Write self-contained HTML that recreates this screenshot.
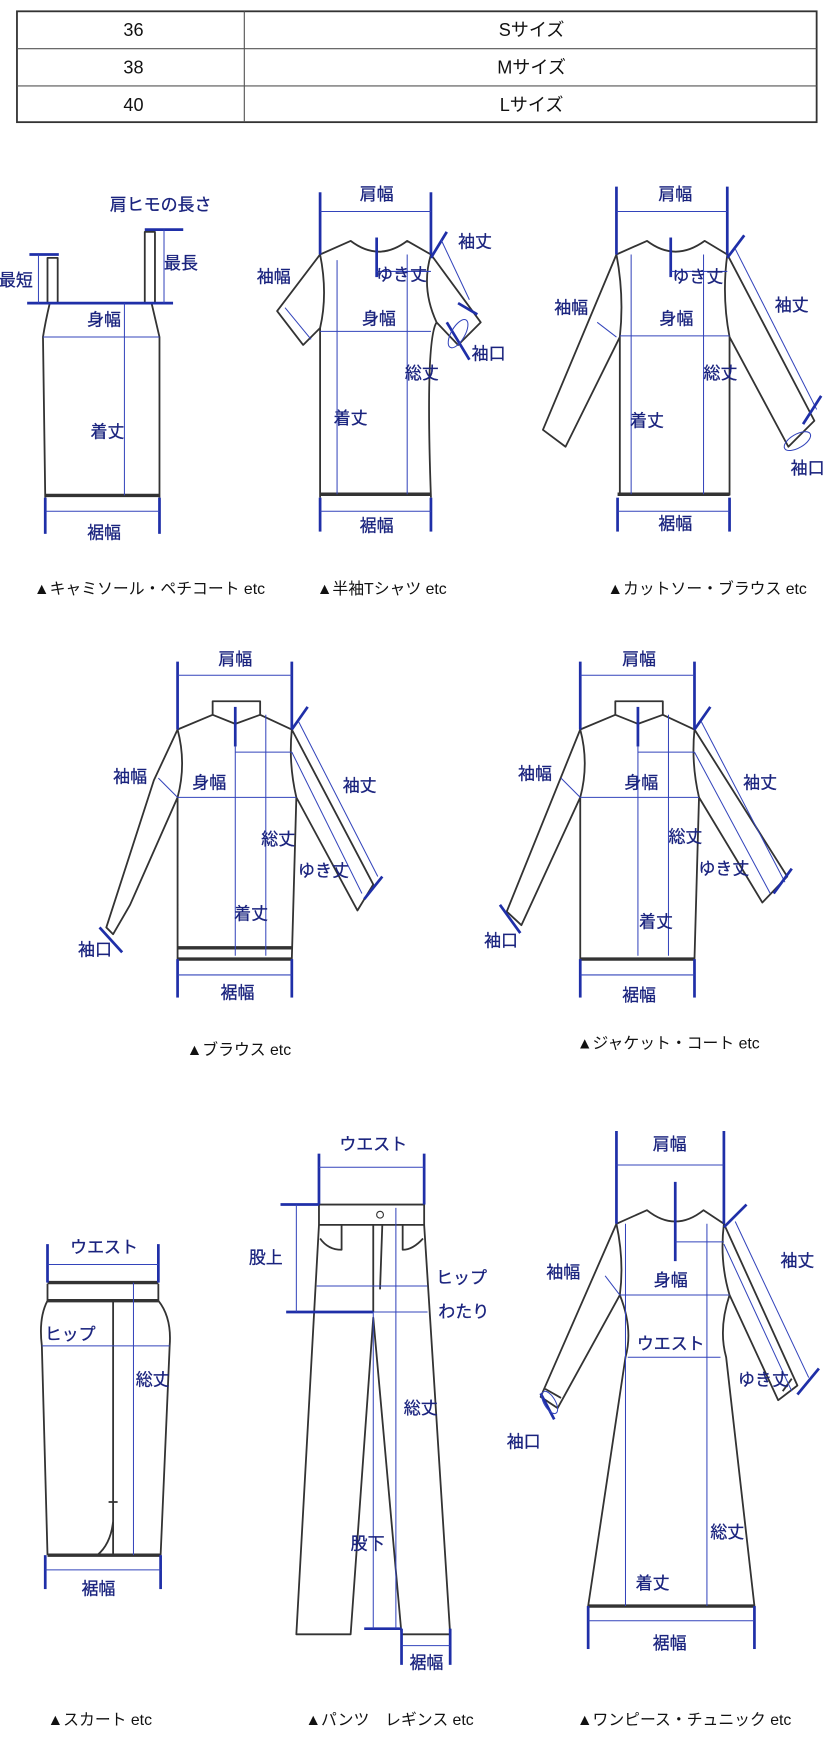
<!DOCTYPE html>
<html><head><meta charset="utf-8"><style>
html,body{margin:0;padding:0;background:#fff}
svg{display:block}
text{font-family:"Liberation Sans","Noto Sans CJK JP",sans-serif}
.l{fill:#1a237e;font-size:15px;text-anchor:middle;stroke:#1a237e;stroke-width:0.25}
.c{fill:#111;font-size:14px}
.o{fill:none;stroke:#333;stroke-width:1.6;stroke-linejoin:round}
.h{fill:none;stroke:#333;stroke-width:3}
.b{fill:none;stroke:#3344bb;stroke-width:0.9}
.B{fill:none;stroke:#1f2fa8;stroke-width:2.4}
</style></head><body>
<svg width="837" height="1761" viewBox="0 0 740 1557" preserveAspectRatio="none" xmlns="http://www.w3.org/2000/svg">
<!-- table -->
<rect x="15" y="10" width="707" height="98" fill="none" stroke="#333" stroke-width="1.6"/>
<line x1="15" y1="43" x2="722" y2="43" stroke="#555"/>
<line x1="15" y1="76" x2="722" y2="76" stroke="#555"/>
<line x1="216" y1="10" x2="216" y2="108" stroke="#555"/>
<g font-size="16" fill="#111" text-anchor="middle">
<text x="118" y="32">36</text><text x="470" y="32">Sサイズ</text>
<text x="118" y="65">38</text><text x="470" y="65">Mサイズ</text>
<text x="118" y="98">40</text><text x="470" y="98">Lサイズ</text>
</g>

<!-- camisole -->
<path class="o" d="M42 268 L42 228 L51 228 L51 268 M128 268 L128 205 L137 205 L137 268 M44 268 Q40 285 38 298 L40 440 M134 268 Q138 285 141 298 L141 440"/>
<line class="h" x1="40" y1="438" x2="141" y2="438"/>
<line class="B" x1="24" y1="268" x2="153" y2="268"/>
<line class="B" x1="26" y1="225" x2="52" y2="225"/><line class="b" x1="34" y1="225" x2="34" y2="268"/>
<line class="B" x1="128" y1="203" x2="162" y2="203"/><line class="b" x1="145" y1="203" x2="145" y2="268"/>
<line class="b" x1="38" y1="298" x2="141" y2="298"/><line class="b" x1="110" y1="268" x2="110" y2="438"/>
<line class="B" x1="40" y1="440" x2="40" y2="472"/><line class="B" x1="141" y1="440" x2="141" y2="472"/><line class="b" x1="40" y1="452" x2="141" y2="452"/>
<text class="l" x="142" y="186">肩ヒモの長さ</text><text class="l" x="14" y="253">最短</text><text class="l" x="160" y="238">最長</text>
<text class="l" x="92" y="288">身幅</text><text class="l" x="95" y="387">着丈</text><text class="l" x="92" y="476">裾幅</text>
<text class="c" x="30" y="525">▲キャミソール・ペチコート etc</text>

<!-- T shirt -->
<path class="o" d="M283 225 L310 213 Q335 232 360 213 L381 225 L425 285 L405 305 L386 285 Q376 300 381 440 M283 225 L245 275 L268 305 L283 290 Q290 260 283 225 M283 290 L283 440 M381 225 Q372 255 386 285"/>
<line class="h" x1="283" y1="437" x2="381" y2="437"/>
<line class="B" x1="283" y1="170" x2="283" y2="225"/><line class="B" x1="381" y1="170" x2="381" y2="225"/>
<line class="b" x1="283" y1="187" x2="381" y2="187"/>
<line class="B" x1="333" y1="210" x2="333" y2="245"/><line class="b" x1="333" y1="240" x2="381" y2="240"/>
<line class="b" x1="283" y1="293" x2="381" y2="293"/><line class="b" x1="298" y1="230" x2="298" y2="437"/><line class="b" x1="360" y1="225" x2="360" y2="437"/>
<line class="B" x1="381" y1="228" x2="395" y2="205"/><line class="b" x1="390" y1="212" x2="415" y2="265"/><line class="B" x1="405" y1="268" x2="422" y2="278"/>
<line class="B" x1="395" y1="285" x2="415" y2="318"/><ellipse class="b" cx="405" cy="295" rx="6" ry="14" transform="rotate(30 405 295)"/>
<line class="b" x1="252" y1="272" x2="275" y2="300"/>
<line class="B" x1="283" y1="440" x2="283" y2="470"/><line class="B" x1="381" y1="440" x2="381" y2="470"/><line class="b" x1="283" y1="452" x2="381" y2="452"/>
<text class="l" x="333" y="177">肩幅</text><text class="l" x="420" y="219">袖丈</text><text class="l" x="242" y="250">袖幅</text><text class="l" x="355" y="248">ゆき丈</text>
<text class="l" x="335" y="287">身幅</text><text class="l" x="432" y="318">袖口</text><text class="l" x="373" y="335">総丈</text><text class="l" x="310" y="375">着丈</text><text class="l" x="333" y="470">裾幅</text>
<text class="c" x="280" y="525">▲半袖Tシャツ etc</text>

<!-- cut-sew -->
<path class="o" d="M545 225 L572 213 Q597 232 623 213 L643 225 L720 372 L697 395 L645 298 L645 438 M545 225 L480 380 L500 395 L548 298 L548 438 M545 225 Q552 262 548 298 M643 225 Q638 262 645 298"/>
<line class="h" x1="546" y1="437" x2="645" y2="437"/>
<line class="B" x1="545" y1="165" x2="545" y2="225"/><line class="B" x1="643" y1="165" x2="643" y2="225"/><line class="b" x1="545" y1="187" x2="643" y2="187"/>
<line class="B" x1="593" y1="210" x2="593" y2="245"/><line class="b" x1="593" y1="240" x2="643" y2="240"/>
<line class="b" x1="548" y1="297" x2="645" y2="297"/><line class="b" x1="558" y1="225" x2="558" y2="437"/><line class="b" x1="622" y1="225" x2="622" y2="437"/>
<line class="B" x1="643" y1="228" x2="658" y2="208"/><line class="b" x1="650" y1="220" x2="722" y2="362"/><line class="B" x1="710" y1="375" x2="726" y2="350"/>
<ellipse class="b" cx="705" cy="390" rx="6" ry="13" transform="rotate(60 705 390)"/><line class="b" x1="528" y1="285" x2="545" y2="298"/>
<line class="B" x1="546" y1="440" x2="546" y2="470"/><line class="B" x1="645" y1="440" x2="645" y2="470"/><line class="b" x1="546" y1="452" x2="645" y2="452"/>
<text class="l" x="597" y="177">肩幅</text><text class="l" x="617" y="250">ゆき丈</text><text class="l" x="505" y="277">袖幅</text><text class="l" x="598" y="287">身幅</text>
<text class="l" x="700" y="275">袖丈</text><text class="l" x="637" y="335">総丈</text><text class="l" x="572" y="377">着丈</text><text class="l" x="714" y="419">袖口</text><text class="l" x="597" y="468">裾幅</text>
<text class="c" x="537" y="525">▲カットソー・ブラウス etc</text>

<!-- blouse & jacket -->
<g id="bl">
<path class="o" d="M188 620 L230 620 L230 632 L258 645 L330 782 L316 805 L262 705 L258 848 L157 848 L157 705 L115 800 L100 826 L94 820 L136 690 L157 645 L188 632 Z M188 632 L208 640 L230 632 M157 645 Q165 675 157 705 M258 645 Q255 675 262 705"/>
<line class="h" x1="157" y1="838" x2="258" y2="838"/><line class="h" x1="157" y1="848" x2="258" y2="848"/>
<line class="B" x1="157" y1="585" x2="157" y2="645"/><line class="B" x1="258" y1="585" x2="258" y2="645"/><line class="b" x1="157" y1="597" x2="258" y2="597"/>
<line class="B" x1="208" y1="625" x2="208" y2="660"/><line class="b" x1="208" y1="660" x2="208" y2="845"/><line class="b" x1="208" y1="665" x2="258" y2="665"/>
<line class="b" x1="235" y1="632" x2="235" y2="845"/><line class="b" x1="157" y1="705" x2="262" y2="705"/><line class="b" x1="140" y1="688" x2="157" y2="705"/>
<line class="B" x1="258" y1="645" x2="272" y2="625"/><line class="b" x1="264" y1="638" x2="334" y2="775"/><line class="B" x1="322" y1="795" x2="338" y2="775"/>
<line class="b" x1="258" y1="665" x2="320" y2="790"/><line class="B" x1="88" y1="820" x2="108" y2="842"/>
<line class="B" x1="157" y1="848" x2="157" y2="882"/><line class="B" x1="258" y1="848" x2="258" y2="882"/><line class="b" x1="157" y1="862" x2="258" y2="862"/>
<text class="l" x="208" y="588">肩幅</text><text class="l" x="115" y="692">袖幅</text><text class="l" x="185" y="697">身幅</text><text class="l" x="318" y="700">袖丈</text>
<text class="l" x="246" y="747">総丈</text><text class="l" x="286" y="775">ゆき丈</text><text class="l" x="222" y="813">着丈</text><text class="l" x="84" y="845">袖口</text><text class="l" x="210" y="883">裾幅</text>
</g>
<text class="c" x="165" y="933">▲ブラウス etc</text>
<g transform="translate(356,0)">
<path class="o" d="M188 620 L230 620 L230 632 L258 645 L340 775 L318 798 L262 705 L258 848 L157 848 L157 705 L105 818 L92 806 L157 645 L188 632 Z M188 632 L208 640 L230 632 M157 645 Q165 675 157 705 M258 645 Q255 675 262 705"/>
<line class="h" x1="157" y1="848" x2="258" y2="848"/>
<line class="B" x1="157" y1="585" x2="157" y2="645"/><line class="B" x1="258" y1="585" x2="258" y2="645"/><line class="b" x1="157" y1="597" x2="258" y2="597"/>
<line class="B" x1="208" y1="625" x2="208" y2="660"/><line class="b" x1="208" y1="660" x2="208" y2="845"/><line class="b" x1="208" y1="665" x2="258" y2="665"/>
<line class="b" x1="235" y1="632" x2="235" y2="845"/><line class="b" x1="157" y1="705" x2="262" y2="705"/><line class="b" x1="140" y1="688" x2="157" y2="705"/>
<line class="B" x1="258" y1="645" x2="272" y2="625"/><line class="b" x1="264" y1="638" x2="338" y2="780"/><line class="B" x1="328" y1="790" x2="344" y2="768"/>
<line class="b" x1="258" y1="665" x2="325" y2="790"/><line class="B" x1="86" y1="800" x2="104" y2="825"/>
<line class="B" x1="157" y1="848" x2="157" y2="882"/><line class="B" x1="258" y1="848" x2="258" y2="882"/><line class="b" x1="157" y1="862" x2="258" y2="862"/>
<text class="l" x="209" y="588">肩幅</text><text class="l" x="117" y="689">袖幅</text><text class="l" x="211" y="697">身幅</text><text class="l" x="316" y="697">袖丈</text>
<text class="l" x="250" y="745">総丈</text><text class="l" x="284" y="773">ゆき丈</text><text class="l" x="224" y="820">着丈</text><text class="l" x="87" y="837">袖口</text><text class="l" x="209" y="885">裾幅</text>
</g>
<text class="c" x="510" y="927">▲ジャケット・コート etc</text>

<!-- skirt -->
<path class="o" d="M42 1135 L42 1150 Q34 1165 37 1190 L42 1375 M140 1135 L140 1150 Q152 1165 150 1190 L142 1375 M100 1150 L100 1375 M100 1345 Q98 1365 86 1375 M96 1328 L104 1328"/>
<line class="h" x1="42" y1="1134" x2="140" y2="1134"/><line class="h" x1="42" y1="1150" x2="140" y2="1150"/><line class="h" x1="42" y1="1375" x2="142" y2="1375"/>
<line class="B" x1="42" y1="1100" x2="42" y2="1134"/><line class="B" x1="140" y1="1100" x2="140" y2="1134"/><line class="b" x1="42" y1="1118" x2="140" y2="1118"/>
<line class="b" x1="37" y1="1190" x2="150" y2="1190"/><line class="b" x1="118" y1="1134" x2="118" y2="1375"/>
<line class="B" x1="40" y1="1375" x2="40" y2="1405"/><line class="B" x1="142" y1="1375" x2="142" y2="1405"/><line class="b" x1="40" y1="1388" x2="142" y2="1388"/>
<text class="l" x="92" y="1108">ウエスト</text><text class="l" x="62" y="1185">ヒップ</text><text class="l" x="135" y="1225">総丈</text><text class="l" x="87" y="1410">裾幅</text>
<text class="c" x="42" y="1525">▲スカート etc</text>

<!-- pants -->
<path class="o" d="M282 1065 L375 1065 L375 1083 L398 1445 L355 1445 L330 1165 L310 1445 L262 1445 L282 1083 Z M282 1083 L375 1083 M330 1083 L330 1160 M338 1083 L336 1140 M283 1095 Q290 1105 302 1105 L302 1083 M374 1095 Q365 1105 356 1105 L356 1083"/>
<circle cx="336" cy="1074" r="3" fill="none" stroke="#333"/>
<line class="B" x1="282" y1="1020" x2="282" y2="1065"/><line class="B" x1="375" y1="1020" x2="375" y2="1065"/><line class="b" x1="282" y1="1032" x2="375" y2="1032"/>
<line class="B" x1="248" y1="1065" x2="282" y2="1065"/><line class="B" x1="253" y1="1160" x2="330" y2="1160"/><line class="B" x1="322" y1="1440" x2="355" y2="1440"/>
<line class="b" x1="262" y1="1065" x2="262" y2="1160"/><line class="b" x1="280" y1="1137" x2="378" y2="1137"/><line class="b" x1="330" y1="1160" x2="378" y2="1160"/>
<line class="b" x1="350" y1="1068" x2="350" y2="1440"/><line class="b" x1="330" y1="1160" x2="330" y2="1440"/>
<line class="B" x1="355" y1="1440" x2="355" y2="1472"/><line class="B" x1="398" y1="1440" x2="398" y2="1472"/><line class="b" x1="355" y1="1455" x2="398" y2="1455"/>
<text class="l" x="330" y="1017">ウエスト</text><text class="l" x="235" y="1117">股上</text><text class="l" x="408" y="1135">ヒップ</text><text class="l" x="410" y="1165">わたり</text>
<text class="l" x="372" y="1250">総丈</text><text class="l" x="325" y="1370">股下</text><text class="l" x="377" y="1475">裾幅</text>
<text class="c" x="270" y="1525">▲パンツ　レギンス etc</text>

<!-- one piece -->
<path class="o" d="M545 1082 L572 1070 Q597 1090 622 1070 L640 1082 L705 1225 L688 1238 L645 1145 Q635 1175 642 1200 L667 1420 L520 1420 L553 1200 Q560 1175 548 1145 L493 1245 L478 1235 Z M545 1082 Q552 1115 548 1145 M640 1082 Q636 1115 645 1145 M482 1228 L496 1236 M692 1230 L700 1219"/>
<line class="h" x1="520" y1="1420" x2="667" y2="1420"/>
<line class="B" x1="545" y1="1000" x2="545" y2="1082"/><line class="B" x1="640" y1="1000" x2="640" y2="1082"/><line class="b" x1="545" y1="1030" x2="640" y2="1030"/>
<line class="B" x1="597" y1="1045" x2="597" y2="1115"/><line class="b" x1="597" y1="1098" x2="640" y2="1098"/>
<line class="b" x1="548" y1="1145" x2="645" y2="1145"/><line class="b" x1="555" y1="1200" x2="637" y2="1200"/>
<line class="b" x1="553" y1="1082" x2="553" y2="1420"/><line class="b" x1="625" y1="1082" x2="625" y2="1420"/>
<line class="B" x1="640" y1="1085" x2="660" y2="1065"/><line class="b" x1="650" y1="1080" x2="715" y2="1218"/><line class="B" x1="705" y1="1233" x2="724" y2="1210"/>
<line class="b" x1="640" y1="1100" x2="700" y2="1230"/><line class="b" x1="535" y1="1128" x2="548" y2="1145"/>
<line class="B" x1="478" y1="1232" x2="490" y2="1255"/><ellipse class="b" cx="486" cy="1240" rx="5" ry="11" transform="rotate(-30 486 1240)"/>
<line class="B" x1="520" y1="1420" x2="520" y2="1458"/><line class="B" x1="667" y1="1420" x2="667" y2="1458"/><line class="b" x1="520" y1="1433" x2="667" y2="1433"/>
<text class="l" x="592" y="1017">肩幅</text><text class="l" x="705" y="1120">袖丈</text><text class="l" x="498" y="1130">袖幅</text><text class="l" x="593" y="1137">身幅</text>
<text class="l" x="593" y="1193">ウエスト</text><text class="l" x="675" y="1225">ゆき丈</text><text class="l" x="463" y="1280">袖口</text>
<text class="l" x="643" y="1360">総丈</text><text class="l" x="577" y="1405">着丈</text><text class="l" x="592" y="1458">裾幅</text>
<text class="c" x="510" y="1525">▲ワンピース・チュニック etc</text>
</svg>
</body></html>
